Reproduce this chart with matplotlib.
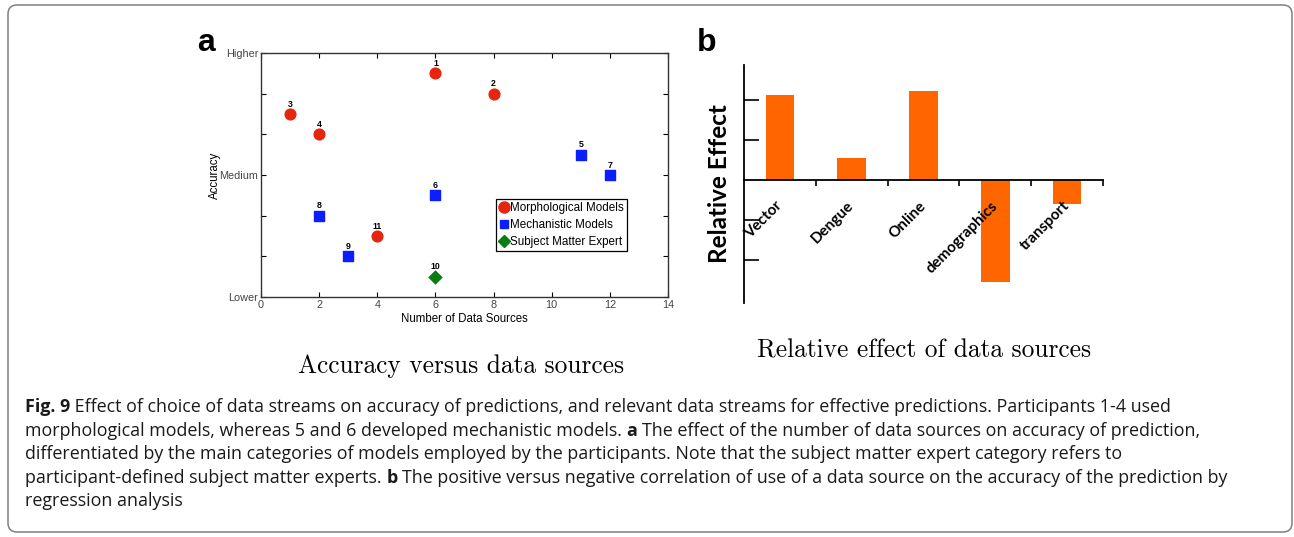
import numpy as np
import matplotlib
matplotlib.use('Agg')
import matplotlib.pyplot as plt
from matplotlib.patches import FancyBboxPatch
from matplotlib.transforms import IdentityTransform
from matplotlib.lines import Line2D

# panel a: participants, number of data sources, accuracy (0 = Lower, 3 = Medium, 6 = Higher)
morph_ids = ['1', '2', '3', '4', '11']
morph_x = [6, 8, 1, 2, 4]
morph_y = [5.5, 5.0, 4.5, 4.0, 1.5]
mech_ids = ['5', '7', '6', '8', '9']
mech_x = [11, 12, 6, 2, 3]
mech_y = [3.5, 3.0, 2.5, 2.0, 1.0]
sme_ids = ['10']
sme_x = [6]
sme_y = [0.5]
acc_labels = ['Lower', 'Medium', 'Higher']

# panel b: relative effect of data sources
sources = ['Vector', 'Dengue', 'Online', 'demographics', 'transport']
effect = [2.13, 0.54, 2.23, -2.54, -0.6]

caption = [
    [('Fig. 9', True), (' Effect of choice of data streams on accuracy of predictions, and relevant data streams for effective predictions. Participants 1-4 used', False)],
    [('morphological models, whereas 5 and 6 developed mechanistic models.', False), ('a', True), ('The effect of the number of data sources on accuracy of prediction,', False)],
    [('differentiated by the main categories of models employed by the participants. Note that the subject matter expert category refers to', False)],
    [('participant-defined subject matter experts.', False), ('b', True), ('The positive versus negative correlation of use of a data source on the accuracy of the prediction by', False)],
    [('regression analysis', False)],
]

W, H = 1294, 537
fig = plt.figure(figsize=(W / 100, H / 100), dpi=100)
fig.patch.set_facecolor('white')

# rounded frame round the whole figure
frame = FancyBboxPatch((8, 5), 1284, 527, boxstyle='round,pad=0,rounding_size=9',
                       transform=IdentityTransform(), facecolor='none',
                       edgecolor='#808080', linewidth=1.1)
fig.patches.append(frame)

# ---- panel a ----
helv = 'Liberation Sans'
axa = fig.add_axes([261 / W, 1 - 297 / H, 407 / W, 244 / H])
axa.scatter(morph_x, morph_y, s=60, marker='o', color='#e5260f', zorder=3)
axa.scatter(mech_x, mech_y, s=45, marker='s', color='#0a1eff', zorder=3)
axa.scatter(sme_x, sme_y, s=55, marker='D', color='#0a7d12', zorder=3, linewidths=0)
for ids, xs, ys in [(morph_ids, morph_x, morph_y), (mech_ids, mech_x, mech_y), (sme_ids, sme_x, sme_y)]:
    for t, x, y in zip(ids, xs, ys):
        axa.annotate(t, (x, y), xytext=(0, 3.8), textcoords='offset points', ha='center',
                     va='bottom', fontsize=6.3, fontweight='bold', family=helv)
axa.set_xlim(0, 14)
axa.set_ylim(0, 6)
axa.set_xticks(np.arange(0, 15, 2))
axa.set_yticks([0, 3, 6])
axa.set_yticklabels(acc_labels)
axa.set_yticks([1, 2, 4, 5], minor=True)
axa.tick_params(which='both', direction='in', top=True, right=True, length=3.5,
                width=0.8, labelsize=7.8, labelcolor='#444444', pad=2)
for lab in axa.get_xticklabels() + axa.get_yticklabels():
    lab.set_family(helv)
for sp in axa.spines.values():
    sp.set_linewidth(1.0)
    sp.set_color('#333333')
axa.set_xlabel('Number of Data Sources', fontsize=8.3, family=helv, labelpad=2)
axa.set_ylabel('Accuracy', fontsize=8.3, family=helv, labelpad=-1)

handles = [
    Line2D([], [], marker='o', color='#e5260f', linestyle='none', markersize=8),
    Line2D([], [], marker='s', color='#0a1eff', linestyle='none', markersize=6),
    Line2D([], [], marker='D', color='#0a7d12', linestyle='none', markersize=6.5),
]
leg = axa.legend(handles, ['Morphological Models', 'Mechanistic Models', 'Subject Matter Expert'],
                 loc='lower left', bbox_to_anchor=(0.578, 0.188), fancybox=False,
                 framealpha=1, edgecolor='black', handlelength=0.7, handletextpad=0.2,
                 borderpad=0.3, labelspacing=0.4, borderaxespad=0,
                 prop={'family': helv, 'size': 8.4})
leg.get_frame().set_linewidth(0.9)

fig.text(197 / W, 1 - 43 / H, 'a', fontsize=23, fontweight='bold', family=helv, va='center')

# ---- panel b ----
axb = fig.add_axes([744 / W, 1 - 303 / H, 359 / W, 238 / H])
pos = np.arange(len(sources))
axb.bar(pos, effect, width=0.4, color='#ff6600', zorder=1)
axb.set_axisbelow(False)
axb.set_xlim(-0.5, 4.5)
axb.set_ylim(-3.075, 2.875)
axb.spines['top'].set_visible(False)
axb.spines['right'].set_visible(False)
axb.spines['bottom'].set_position(('data', 0))
axb.spines['left'].set_linewidth(1.3)
axb.spines['bottom'].set_linewidth(1.3)
axb.set_yticks([-2, -1, 1, 2])
axb.set_yticklabels([])
axb.tick_params(axis='y', direction='in', length=11, width=1.2)
axb.set_xticks(pos)
axb.set_xticklabels(sources, rotation=45, ha='right', va='center', rotation_mode='anchor',
                    fontsize=11, fontweight='bold', family='Lato')
axb.tick_params(axis='x', which='major', length=0, pad=17)
axb.set_xticks(pos + 0.5, minor=True)
axb.tick_params(axis='x', which='minor', direction='out', length=4, width=1.2)
axb.set_ylabel('Relative Effect', fontsize=17.5, fontweight='bold', family='Lato', labelpad=6)

fig.text(697 / W, 1 - 43 / H, 'b', fontsize=23, fontweight='bold', family=helv, va='center')

# subtitles
fig.text(461 / W, 1 - 366 / H, 'Accuracy versus data sources', fontsize=18.3, family='cmr10',
         ha='center', va='center')
fig.text(924 / W, 1 - 351 / H, 'Relative effect of data sources', fontsize=18.3, family='cmr10',
         ha='center', va='center')

# caption, drawn piece by piece so the bold words sit inline
renderer = fig.canvas.get_renderer()
cap_size = 12.9
space = fig.text(0, 0, 'a a', fontsize=cap_size, family='Open Sans').get_window_extent(renderer).width \
    - 2 * fig.text(0, 0, 'a', fontsize=cap_size, family='Open Sans').get_window_extent(renderer).width
for t in fig.texts[-2:]:
    t.remove()
line_y = [407, 431, 454, 478, 501]
for segs, y in zip(caption, line_y):
    x = 25
    for i, (txt, bold) in enumerate(segs):
        if i > 0 and not txt.startswith(' '):
            x += space
        t = fig.text(x / W, 1 - y / H, txt, fontsize=cap_size, family='Open Sans',
                     fontweight='bold' if bold else 'normal', color='#1a1a1a',
                     va='center', ha='left')
        x += t.get_window_extent(renderer).width

fig.savefig('out.png', dpi=100, facecolor='white')
